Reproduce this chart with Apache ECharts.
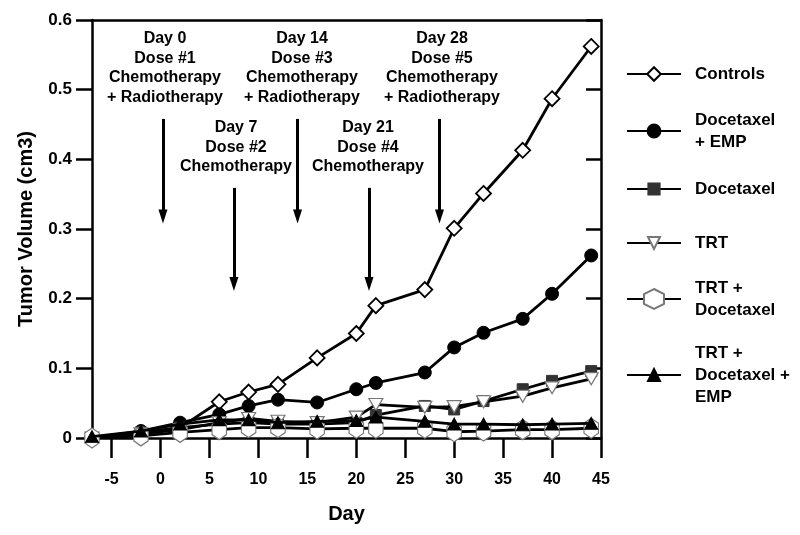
<!DOCTYPE html>
<html><head><meta charset="utf-8">
<script src="https://cdn.jsdelivr.net/npm/echarts@6/dist/echarts.min.js"></script>
<style>html,body{margin:0;padding:0;background:#fff}#c{width:800px;height:535px}</style>
</head><body><div id="c"></div>
<script>
const days = [-7, -2, 2, 6, 9, 12, 16, 20, 22, 27, 30, 33, 37, 40, 44];
const controls = [0, 0.006, 0.015, 0.052, 0.066, 0.077, 0.115, 0.150, 0.190, 0.213, 0.301, 0.351, 0.413, 0.487, 0.562];
const docetaxelEmp = [0, 0.010, 0.022, 0.034, 0.046, 0.055, 0.051, 0.070, 0.079, 0.094, 0.130, 0.151, 0.171, 0.207, 0.262];
const docetaxel = [0, 0.008, 0.015, 0.020, 0.022, 0.020, 0.020, 0.022, 0.033, 0.046, 0.041, 0.053, 0.070, 0.082, 0.096];
const trt = [0, 0.006, 0.012, 0.022, 0.028, 0.024, 0.022, 0.030, 0.048, 0.044, 0.045, 0.052, 0.060, 0.072, 0.085];
const trtDocetaxel = [0, 0.003, 0.008, 0.012, 0.015, 0.015, 0.013, 0.014, 0.014, 0.014, 0.009, 0.010, 0.012, 0.012, 0.014];
const trtDocetaxelEmp = [0.002, 0.010, 0.020, 0.026, 0.026, 0.022, 0.024, 0.025, 0.030, 0.024, 0.020, 0.020, 0.019, 0.020, 0.021];
const seriesNames = ['Controls', 'Docetaxel\n+ EMP', 'Docetaxel', 'TRT', 'TRT +\nDocetaxel', 'TRT +\nDocetaxel +\nEMP'];
const xTicks = [-5, 0, 5, 10, 15, 20, 25, 30, 35, 40, 45];
// dosing annotations: [day of arrow, label]
const doseDays = [0.25, 7.5, 14, 21.3, 28.5];
const doseLabels = ['Day 0\nDose #1\nChemotherapy\n+ Radiotherapy', 'Day 7\nDose #2\nChemotherapy', 'Day 14\nDose #3\nChemotherapy\n+ Radiotherapy', 'Day 21\nDose #4\nChemotherapy', 'Day 28\nDose #5\nChemotherapy\n+ Radiotherapy'];
const arrowTop = [0.458, 0.359, 0.458, 0.359, 0.458];
const arrowTip = [0.318, 0.221, 0.318, 0.221, 0.318];

const FONT = '"Liberation Sans", Arial, sans-serif';
const pair = arr => days.map((d, i) => [d, arr[i]]);
const diamond = 'path://M5,0 L10,5 L5,10 L0,5 Z';
const invTri = 'path://M0,0 L10,0 L5,9 Z';
const hexagon = 'path://M4.25,0 L8.5,2.5 L8.5,7.5 L4.25,10 L0,7.5 L0,2.5 Z';
const tri = 'path://M5,0 L10,9 L0,9 Z';

const valuesList = [controls, docetaxelEmp, docetaxel, trt, trtDocetaxel, trtDocetaxelEmp];
const symbols = [diamond, 'circle', 'rect', invTri, hexagon, tri];
const sizes = [[15, 15], 13, 11, [14, 12], [17, 20], [13, 12]];
const keepAspect = [false, false, false, false, true, false];
const fills = ['#fff', '#000', '#333', '#fff', '#fff', '#000'];
const strokes = ['#000', '#000', '#333', '#777', '#777', '#000'];
const strokeW = [1.8, 1, 1, 1.2, 1.2, 1];

const series = valuesList.map((vals, i) => ({
  name: seriesNames[i], type: 'line', data: pair(vals),
  symbol: symbols[i], symbolSize: sizes[i], symbolKeepAspect: keepAspect[i], showAllSymbol: true,
  lineStyle: {color: '#000', width: 2.8},
  itemStyle: {color: fills[i], borderColor: strokes[i], borderWidth: strokeW[i]},
  z: 3 + i, animation: false
}));

series.push({
  type: 'line', data: [], silent: true, animation: false,
  markLine: {
    silent: true, animation: false,
    symbol: ['none', 'triangle'], symbolSize: [9, 14],
    label: {show: false},
    lineStyle: {color: '#000', width: 3, type: 'solid'},
    data: doseDays.map((d, i) => [{coord: [d, arrowTop[i]]}, {coord: [d, arrowTip[i]]}])
  }
});

const legendCenters = [74, 131, 189, 243, 299, 375];
const legendLines = [1, 2, 1, 1, 2, 3];
const legendIconH = [17, 16, 14, 15, 25, 15];
const LH = 22;
const legends = seriesNames.map((n, i) => ({
  data: [n], left: 626, top: legendCenters[i] - legendLines[i] * LH / 2,
  orient: 'vertical', padding: 0, itemWidth: 54, itemHeight: legendIconH[i],
  selectedMode: false,
  textStyle: {fontFamily: FONT, fontSize: 17, fontWeight: 'bold', color: '#000', lineHeight: LH, padding: [0, 0, 0, 9]}
}));

// annotation text blocks (center x, top y in px)
const annPos = [[165, 29], [236, 118], [302, 29], [368, 118], [442, 29]];
const graphics = doseLabels.map((t, i) => ({
  type: 'text', x: annPos[i][0], y: annPos[i][1], silent: true,
  style: {text: t, fontFamily: FONT, fontSize: 16, fontWeight: 'bold', fill: '#000', align: 'center', verticalAlign: 'top', lineHeight: 19.5}
}));

const chart = echarts.init(document.getElementById('c'), null, {renderer: 'canvas'});
chart.setOption({
  animation: false,
  backgroundColor: '#fff',
  grid: {left: 92, right: 199, top: 20, bottom: 97, containLabel: false},
  legend: legends,
  graphic: graphics,
  xAxis: [{
    type: 'value', min: -7, max: 45, position: 'bottom',
    name: 'Day', nameLocation: 'middle', nameGap: 66,
    nameTextStyle: {fontFamily: FONT, fontSize: 20, fontWeight: 'bold', color: '#000'},
    axisLine: {show: true, lineStyle: {color: '#000', width: 2.5}},
    axisTick: {show: true, inside: false, length: 20, lineStyle: {color: '#000', width: 2.5}, customValues: xTicks},
    axisLabel: {fontFamily: FONT, fontSize: 16, fontWeight: 'bold', color: '#000', margin: 34, customValues: xTicks},
    splitLine: {show: false}
  }, {
    type: 'value', min: -7, max: 45, position: 'top',
    axisLine: {show: true, onZero: false, lineStyle: {color: '#000', width: 2.5}},
    axisTick: {show: false}, axisLabel: {show: false}, splitLine: {show: false}
  }],
  yAxis: [{
    type: 'value', min: 0, max: 0.6, interval: 0.1, position: 'left',
    name: 'Tumor Volume (cm3)', nameLocation: 'middle', nameGap: 56,
    nameTextStyle: {fontFamily: FONT, fontSize: 20, fontWeight: 'bold', color: '#000'},
    axisLine: {show: true, onZero: false, lineStyle: {color: '#000', width: 2.5}},
    axisTick: {show: true, length: 16, lineStyle: {color: '#000', width: 2.5}},
    axisLabel: {fontFamily: FONT, fontSize: 17, fontWeight: 'bold', color: '#000', margin: 20,
      formatter: v => v === 0 ? '0' : v.toFixed(1)},
    splitLine: {show: false}
  }, {
    type: 'value', min: 0, max: 0.6, interval: 0.1, position: 'right',
    axisLine: {show: true, onZero: false, lineStyle: {color: '#000', width: 2.5}},
    axisTick: {show: true, inside: true, length: 15, lineStyle: {color: '#000', width: 2.5}},
    axisLabel: {show: false}, splitLine: {show: false}
  }],
  series: series
});
</script></body></html>
